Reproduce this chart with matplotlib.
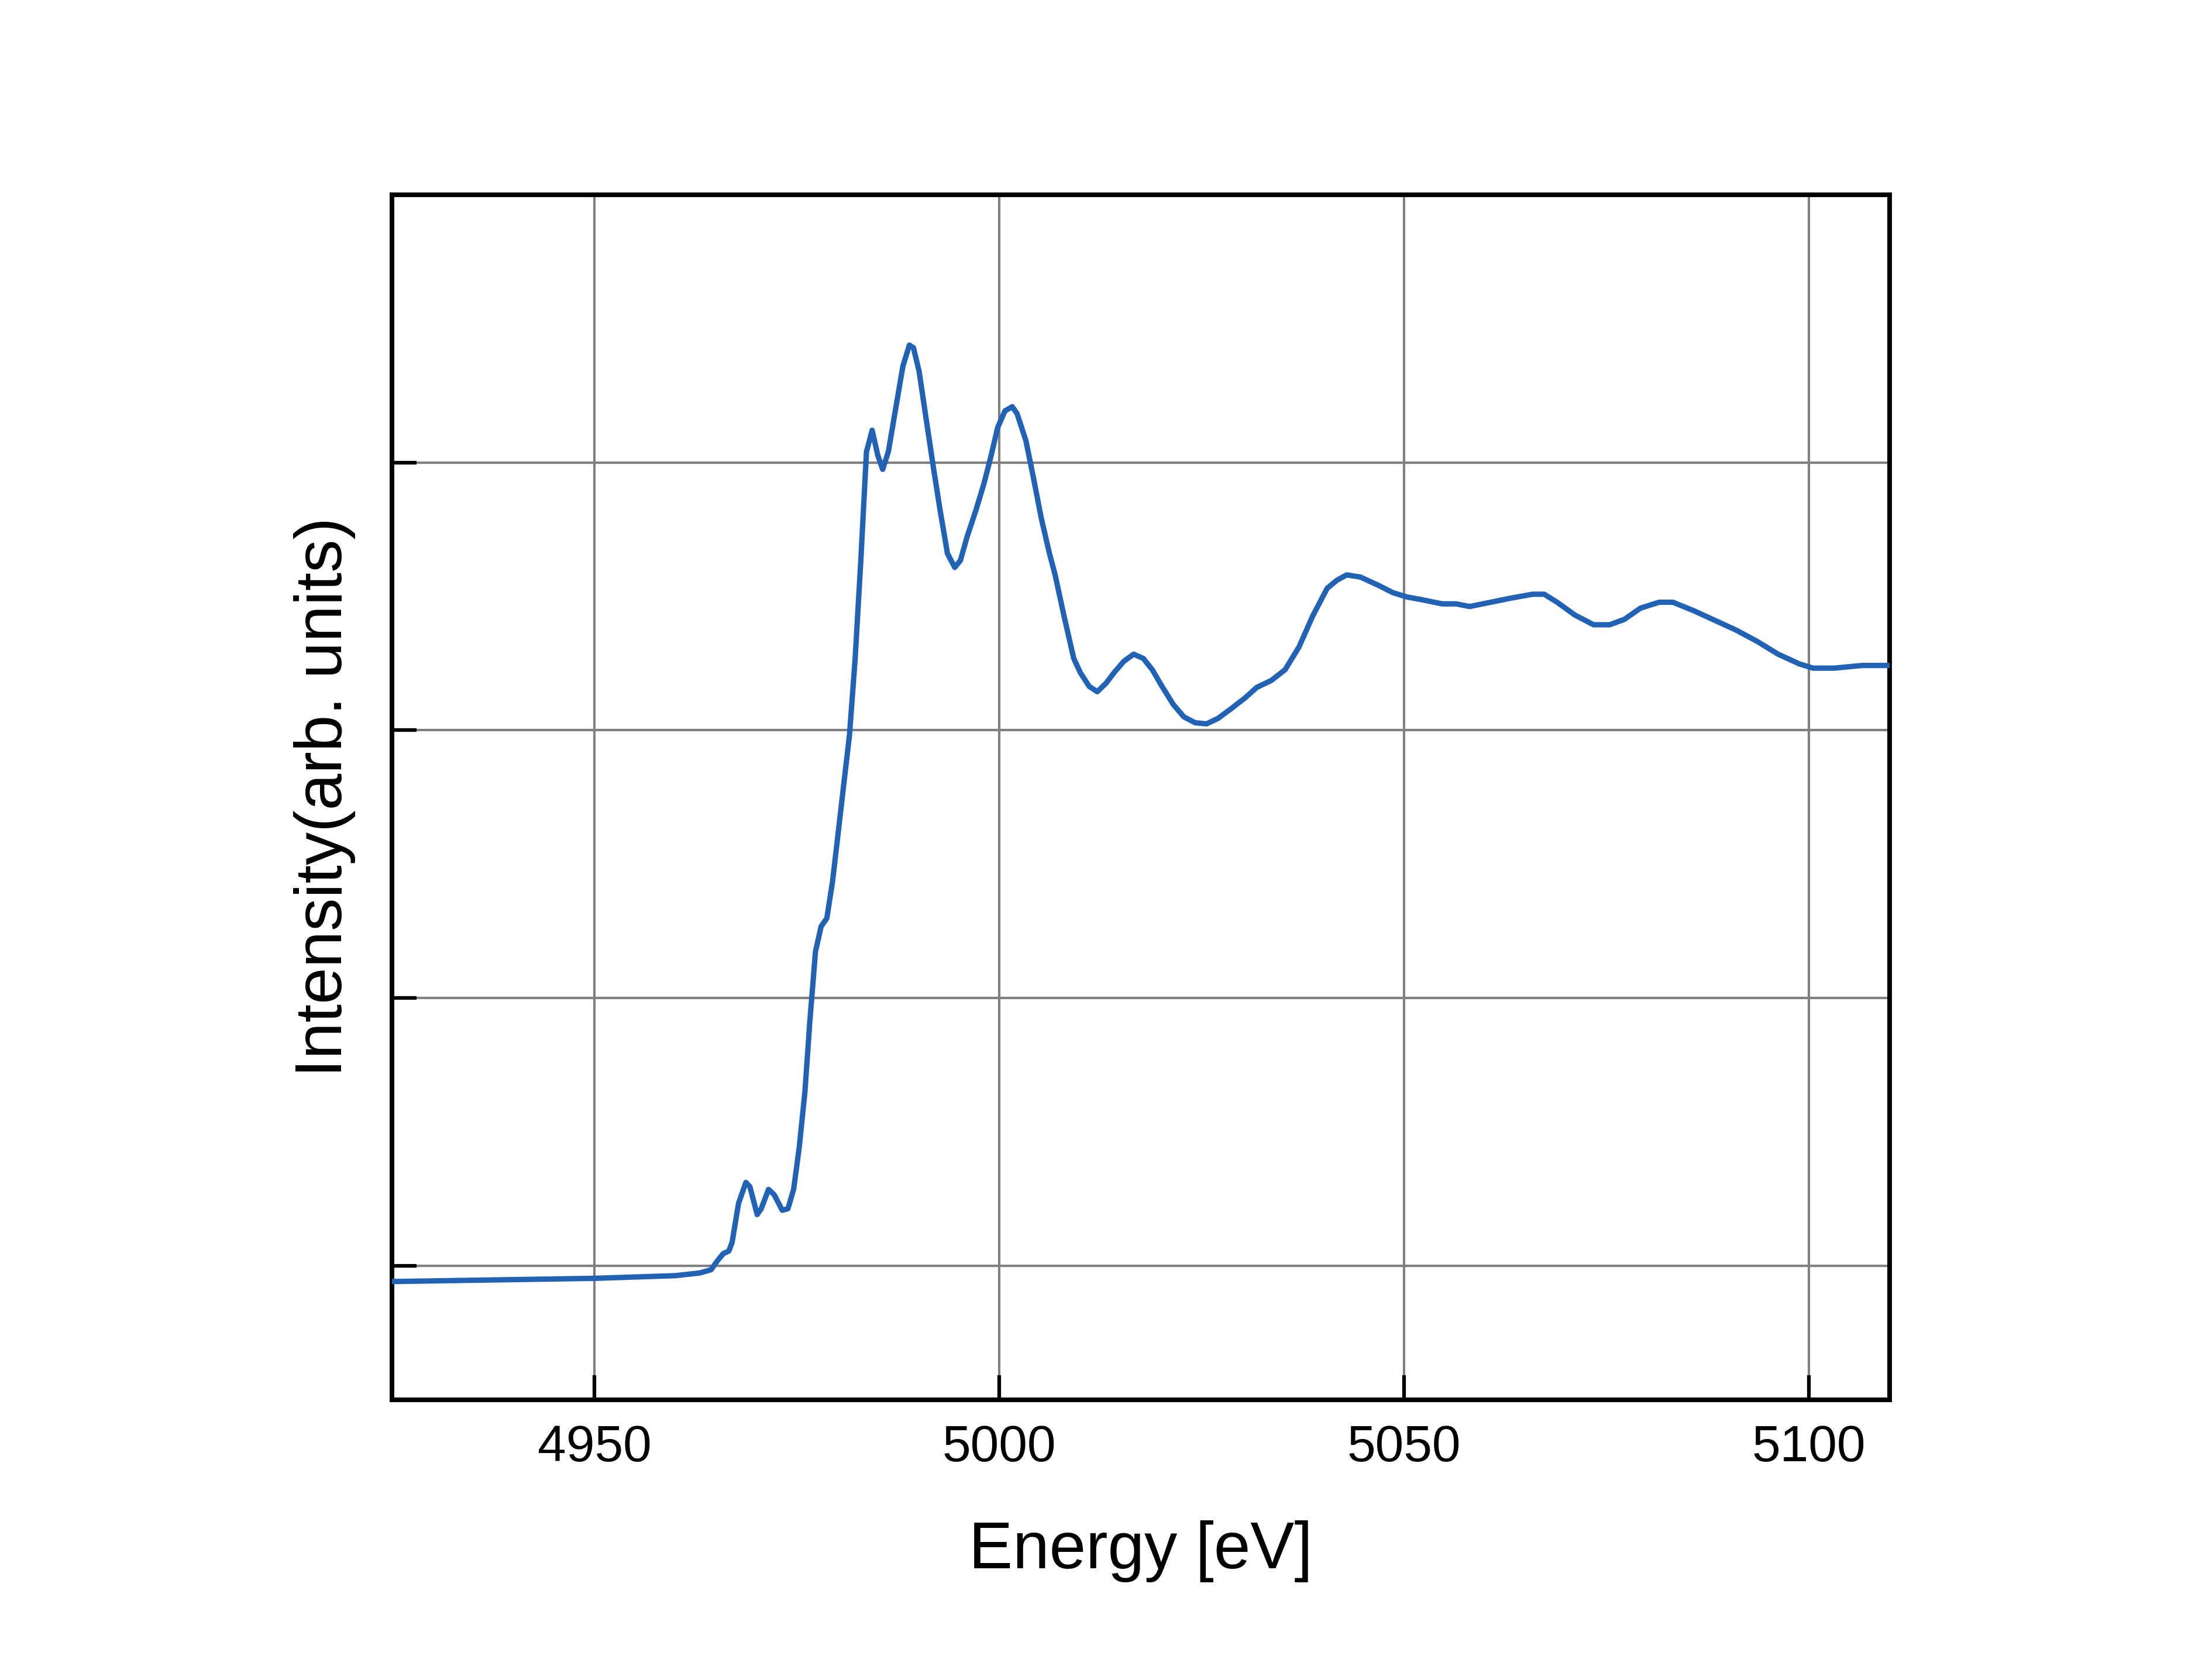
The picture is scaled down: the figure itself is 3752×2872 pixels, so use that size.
import matplotlib
matplotlib.use("Agg")
import matplotlib.pyplot as plt
import numpy as np

energy = [4925, 4950, 4960, 4963, 4964.4, 4965.2, 4965.9, 4966.6, 4967.0, 4967.8, 4968.7, 4969.2,
          4970.1, 4970.6, 4971.5, 4972.2, 4973.2, 4973.9, 4974.6, 4975.3, 4976.0, 4976.6,
          4977.3, 4978.0, 4978.7, 4979.4, 4980.1, 4980.8, 4981.5, 4982.2, 4982.9, 4983.6,
          4984.3, 4985.0, 4985.6, 4986.3, 4987.2, 4988.1, 4988.9, 4989.4, 4990.1, 4991.0,
          4991.9, 4992.7, 4993.6, 4994.5, 4995.2, 4996.0, 4997.1, 4998.1, 4999.0, 4999.8,
          5000.7, 5001.6, 5002.2, 5003.3, 5004.2, 5005.2, 5006.2, 5006.9, 5008.0, 5009.2,
          5010.0, 5011.1, 5012.1, 5013.2, 5014.2, 5015.4, 5016.6, 5017.8, 5018.9, 5020.1,
          5021.5, 5022.8, 5024.2, 5025.6, 5027.0, 5028.7, 5030.4, 5031.8, 5033.6, 5035.3,
          5037.0, 5038.7, 5040.5, 5041.7, 5042.9, 5044.6, 5046.9, 5048.6, 5050.3, 5052.1,
          5054.7, 5056.4, 5058.1, 5060.7, 5063.3, 5065.9, 5067.3, 5068.9, 5071.1, 5073.4,
          5075.4, 5077.2, 5079.2, 5081.5, 5083.2, 5085.8, 5088.4, 5091.0, 5093.6, 5096.2,
          5098.8, 5100.5, 5103.1, 5106.6, 5110.0]
intensity = [-0.029, -0.023, -0.018, -0.013, -0.007, 0.010, 0.023, 0.028, 0.044, 0.117, 0.156, 0.148,
             0.096, 0.107, 0.143, 0.133, 0.104, 0.107, 0.143, 0.222, 0.326, 0.456,
             0.587, 0.634, 0.649, 0.717, 0.808, 0.900, 0.991, 1.134, 1.317, 1.520,
             1.560, 1.513, 1.487, 1.520, 1.600, 1.680, 1.719, 1.714, 1.670, 1.578,
             1.487, 1.410, 1.330, 1.304, 1.317, 1.360, 1.410, 1.460, 1.513, 1.565,
             1.596, 1.604, 1.591, 1.540, 1.473, 1.395, 1.330, 1.290, 1.213, 1.134,
             1.108, 1.082, 1.072, 1.088, 1.108, 1.129, 1.142, 1.134, 1.113, 1.082,
             1.048, 1.025, 1.014, 1.012, 1.022, 1.041, 1.061, 1.080, 1.093, 1.113,
             1.155, 1.213, 1.265, 1.280, 1.290, 1.286, 1.270, 1.257, 1.249, 1.244,
             1.236, 1.236, 1.231, 1.239, 1.247, 1.254, 1.254, 1.239, 1.215, 1.197,
             1.197, 1.207, 1.228, 1.239, 1.239, 1.223, 1.205, 1.187, 1.166, 1.142,
             1.124, 1.116, 1.116, 1.121, 1.121]

x_ticks = [4950, 5000, 5050, 5100]
y_ticks = [0, 0.5, 1.0, 1.5]

plt.rcParams['font.family'] = ['Liberation Sans', 'DejaVu Sans']

fig = plt.figure(figsize=(3752/300, 2872/300), dpi=300)
ax = fig.add_axes([0.1786, 0.1667, 0.861 - 0.1786, 0.8842 - 0.1667])

ax.plot(energy, intensity, color='#2162b5', lw=2.2, zorder=3)

ax.set_xlim(4925, 5110)
ax.set_ylim(-0.25, 2.0)
ax.set_xticks(x_ticks)
ax.set_yticks(y_ticks)
ax.set_yticklabels([])
ax.grid(True, color='#808080', lw=1.0)
ax.set_axisbelow(True)

for s in ax.spines.values():
    s.set_linewidth(1.9)
    s.set_color('black')

ax.tick_params(axis='both', direction='in', length=10, width=1.5, colors='black',
               labelsize=21, pad=10, top=False, right=False)

ax.set_xlabel('Energy [eV]', fontsize=27, labelpad=20)
ax.set_ylabel('Intensity(arb. units)', fontsize=27, labelpad=5)

fig.savefig('out.png', dpi=300, facecolor='white')
